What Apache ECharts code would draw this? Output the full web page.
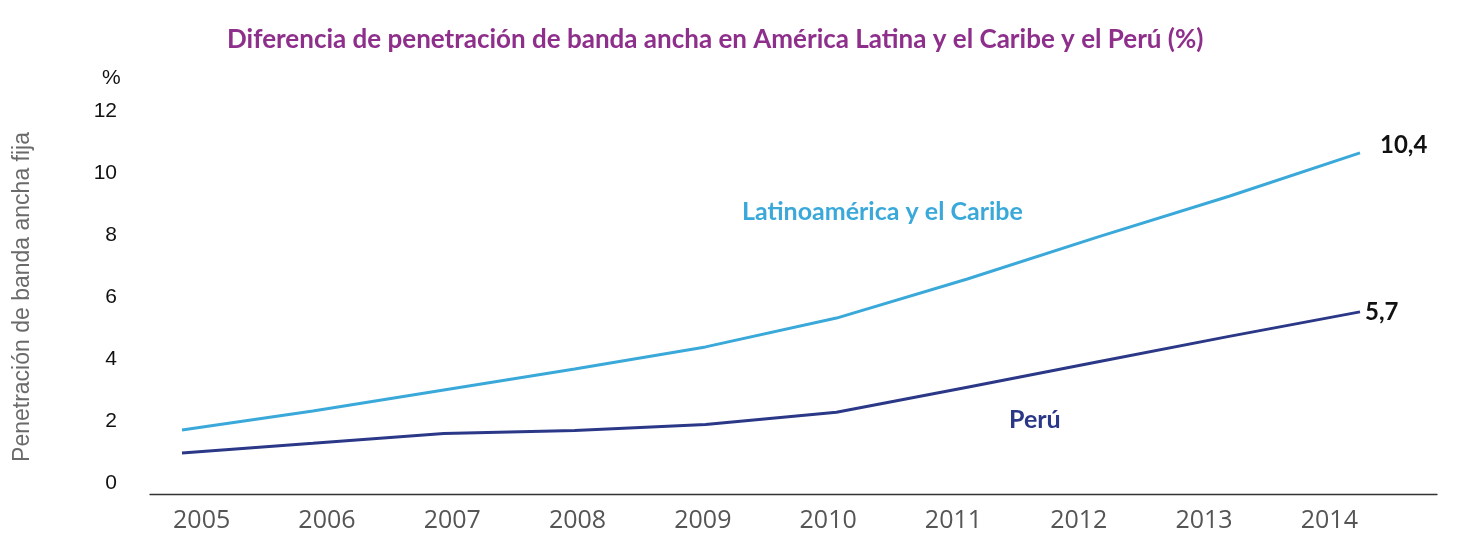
<!DOCTYPE html>
<html>
<head>
<meta charset="utf-8">
<script src="https://cdn.jsdelivr.net/npm/echarts@6/dist/echarts.min.js"></script>
<style>
  html, body { margin: 0; padding: 0; background: #fff; }
  #main { width: 1471px; height: 535px; }
</style>
</head>
<body>
<div id="main"></div>
<script>
// datos
const years = ['2005', '2006', '2007', '2008', '2009', '2010', '2011', '2012', '2013', '2014']
const latam = [1.71, 2.32, 3.0, 3.68, 4.39, 5.32, 6.58, 7.94, 9.25, 10.65]
const peru = [0.97, 1.28, 1.6, 1.69, 1.89, 2.28, 3.09, 3.91, 4.73, 5.52]
const endLabels = ['10,4', '5,7']
const seriesNames = ['Latinoamérica y el Caribe', 'Perú']

const myChart = echarts.init(document.getElementById('main'))

const option = {
  animation: false,
  backgroundColor: '#fff',
  title: [{
    text: 'Diferencia de penetración de banda ancha en América Latina y el Caribe y el Perú (%)',
    left: 222,
    top: 22,
    textStyle: { color: '#8e2f8c', fontSize: 26, fontWeight: 'bold', fontFamily: 'Lato' }
  }, {
    text: '%',
    left: 97,
    top: 63,
    textStyle: { color: '#111', fontSize: 21, fontWeight: 'normal', fontFamily: 'Liberation Sans' }
  }, {
    text: seriesNames[0],
    left: 737,
    top: 194,
    textStyle: { color: '#3aa9da', fontSize: 25, fontWeight: 'bold', fontFamily: 'Lato' }
  }, {
    text: seriesNames[1],
    left: 1004,
    top: 402,
    textStyle: { color: '#2b3887', fontSize: 25, fontWeight: 'bold', fontFamily: 'Lato' }
  }],
  grid: [
    { left: 182, right: 111, top: 111, bottom: 52 },
    { left: 139, width: 1253, top: 111, bottom: 41 },
    { left: 150, right: 34, top: 111, bottom: 41 }
  ],
  xAxis: [{
    gridIndex: 0,
    type: 'category',
    data: years,
    boundaryGap: false,
    show: false
  }, {
    gridIndex: 1,
    type: 'category',
    data: years,
    boundaryGap: true,
    axisLine: { show: false },
    axisTick: { show: false },
    axisLabel: { color: '#555', fontSize: 25, fontFamily: 'Open Sans', margin: 14 }
  }, {
    gridIndex: 2,
    type: 'value',
    min: 0,
    max: 1,
    axisLine: { show: true, lineStyle: { color: '#333', width: 1.3 } },
    axisTick: { show: false },
    axisLabel: { show: false },
    splitLine: { show: false }
  }],
  yAxis: [{
    gridIndex: 0,
    type: 'value',
    min: 0,
    max: 12,
    interval: 2,
    name: 'Penetración de banda ancha fija',
    nameLocation: 'middle',
    nameRotate: 90,
    nameGap: 148,
    nameTextStyle: { color: '#6a6a6a', fontSize: 23, fontFamily: 'Liberation Sans' },
    axisLine: { show: false },
    axisTick: { show: false },
    splitLine: { show: false },
    axisLabel: { color: '#111', fontSize: 21, fontFamily: 'Liberation Sans', margin: 65 }
  }, {
    gridIndex: 1, type: 'value', show: false
  }, {
    gridIndex: 2, type: 'value', show: false
  }],
  series: [{
    name: seriesNames[0],
    type: 'line',
    xAxisIndex: 0,
    yAxisIndex: 0,
    data: latam,
    showSymbol: false,
    lineStyle: { color: '#3aa9da', width: 3 },
    endLabel: {
      show: true,
      formatter: endLabels[0],
      color: '#111',
      fontSize: 24,
      fontWeight: 'bold',
      fontFamily: 'Lato',
      offset: [12, -8]
    }
  }, {
    name: seriesNames[1],
    type: 'line',
    xAxisIndex: 0,
    yAxisIndex: 0,
    data: peru,
    showSymbol: false,
    lineStyle: { color: '#2b3887', width: 3 },
    endLabel: {
      show: true,
      formatter: endLabels[1],
      color: '#111',
      fontSize: 24,
      fontWeight: 'bold',
      fontFamily: 'Lato',
      offset: [-3, 0]
    }
  }]
}

myChart.setOption(option, true)
</script>
</body>
</html>
